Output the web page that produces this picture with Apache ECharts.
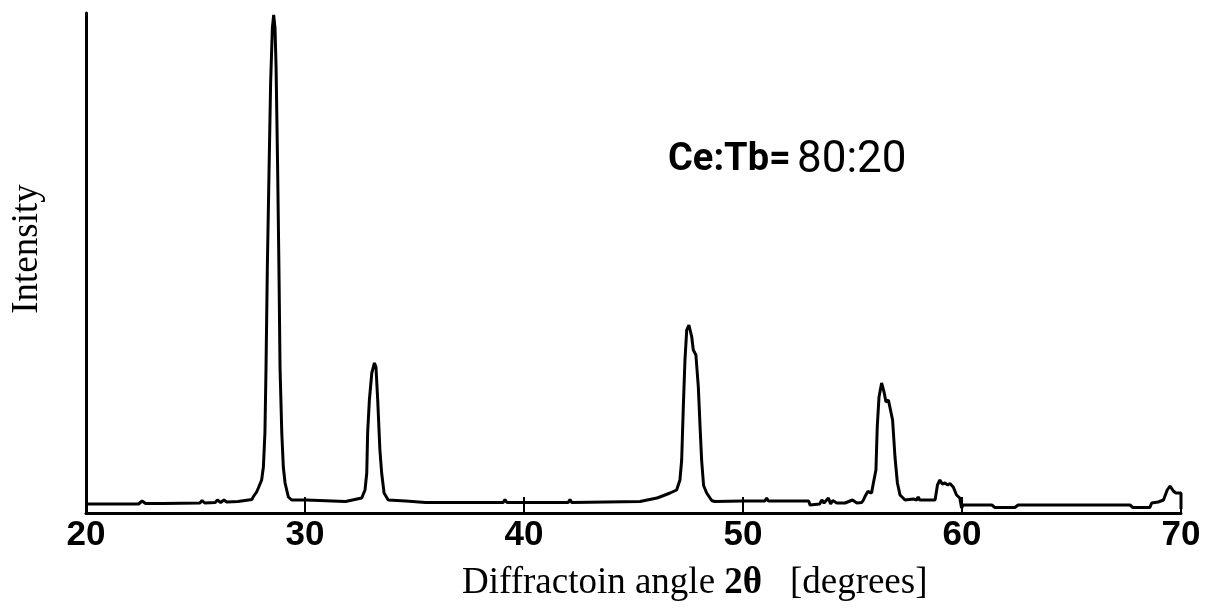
<!DOCTYPE html>
<html>
<head>
<meta charset="utf-8">
<script src="https://cdn.jsdelivr.net/npm/echarts@6/dist/echarts.min.js"></script>
<style>
  html, body { margin: 0; padding: 0; background: #fff; }
  #chart { width: 1211px; height: 609px; }
</style>
</head>
<body>
<div id="chart"></div>
<script>
// X-ray diffraction pattern, Ce:Tb = 80:20
const angle = [
  20.00, 22.40, 22.56, 22.72, 23.30, 23.38, 23.50, 25.20, 25.30, 25.42,
  25.90, 26.00, 26.15, 26.30, 26.42, 26.94, 27.03, 27.58, 27.63, 27.79,
  27.87, 28.02, 28.10, 28.17, 28.22, 28.28, 28.36, 28.43, 28.51, 28.57,
  28.63, 28.68, 28.75, 28.81, 28.86, 28.94, 29.01, 29.09, 29.24, 29.39,
  30.05, 30.10, 31.85, 31.90, 32.59, 32.74, 32.82, 32.86, 32.94, 33.05,
  33.17, 33.24, 33.32, 33.42, 33.50, 33.61, 33.80, 34.60, 35.50, 39.05,
  39.13, 39.22, 42.02, 42.10, 42.18, 45.30, 46.07, 46.20, 46.67, 46.97,
  47.12, 47.20, 47.27, 47.35, 47.43, 47.53, 47.66, 47.73, 47.85, 47.96,
  48.04, 48.11, 48.20, 48.34, 48.57, 48.70, 50.00, 51.00, 51.08, 51.16,
  53.00, 53.06, 53.50, 53.60, 53.70, 53.90, 54.00, 54.10, 54.28, 54.66,
  55.00, 55.04, 55.20, 55.42, 55.50, 55.57, 55.70, 55.87, 55.98, 56.07,
  56.13, 56.21, 56.33, 56.44, 56.53, 56.64, 56.71, 56.83, 56.94, 57.05,
  57.17, 57.40, 57.78, 57.93, 58.00, 58.07, 58.77, 58.88, 58.99, 59.10,
  59.22, 59.35, 59.45, 59.60, 59.75, 59.90, 59.96, 59.98, 60.05, 61.36,
  61.50, 62.42, 62.56, 67.67, 67.80, 68.58, 68.66, 68.96, 69.20, 69.37,
  69.50, 69.65, 69.76, 70.00, 70.00
];
const intensity = [
  1.8, 1.8, 2.4, 1.9, 1.9, 2.3, 1.9, 2.0, 2.5, 2.0,
  2.1, 2.6, 2.1, 2.6, 2.2, 2.3, 2.7, 2.7, 3.2, 4.2,
  5.0, 6.6, 9.2, 16.0, 29.0, 49.0, 69.0, 86.0, 97.0, 99.6,
  97.0, 89.0, 69.0, 49.0, 29.0, 16.0, 9.2, 6.0, 3.2, 2.6,
  2.6, 2.3, 2.3, 2.7, 3.0, 4.6, 8.0, 16.0, 22.6, 28.0,
  30.0, 29.2, 22.6, 12.6, 8.0, 4.0, 2.6, 2.4, 2.1, 2.1,
  2.7, 2.1, 2.1, 2.7, 2.1, 2.3, 3.0, 3.2, 4.0, 4.6,
  6.6, 10.6, 20.6, 30.6, 36.6, 37.6, 35.2, 32.6, 31.6, 25.2,
  17.2, 10.6, 5.5, 4.0, 2.5, 2.3, 2.4, 2.4, 3.0, 2.4,
  2.4, 1.6, 1.8, 2.6, 2.0, 3.0, 1.8, 2.5, 2.0, 2.0,
  2.6, 3.0, 2.0, 2.1, 2.6, 3.3, 4.3, 4.0, 6.6, 8.6,
  17.2, 23.2, 26.0, 24.2, 22.2, 22.6, 22.2, 18.6, 11.2, 6.0,
  3.6, 2.6, 2.8, 2.6, 3.2, 2.6, 2.6, 5.6, 6.6, 5.8,
  6.0, 5.6, 5.9, 5.2, 3.6, 3.0, 3.0, 1.0, 1.6, 1.6,
  1.1, 1.1, 1.6, 1.6, 1.1, 1.1, 2.0, 2.2, 2.6, 4.6,
  5.4, 4.4, 4.0, 4.0, 0.8
];
const angleTicks = [20, 30, 40, 50, 60, 70];
const sampleLabel = ['Ce:Tb=', '80:20'];
const xTitle = ['Diffractoin angle ', '2θ', '   [degrees]'];
const yTitle = 'Intensity';

const points = angle.map((a, i) => [a, intensity[i]]);

const chart = echarts.init(document.getElementById('chart'), null, { renderer: 'canvas' });
chart.setOption({
  animation: false,
  backgroundColor: '#fff',
  grid: { left: 86, right: 30, top: 13, bottom: 96 },
  xAxis: {
    type: 'value',
    min: angleTicks[0],
    max: angleTicks[angleTicks.length - 1],
    interval: 10,
    axisLine: { show: true, onZero: false, lineStyle: { color: '#000', width: 3 } },
    axisTick: { show: true, inside: true, length: 16, lineStyle: { color: '#000', width: 2 } },
    axisLabel: {
      margin: 5,
      color: '#000',
      fontFamily: 'Liberation Sans',
      fontWeight: 'bold',
      fontSize: 35
    },
    splitLine: { show: false }
  },
  yAxis: {
    type: 'value',
    min: 0,
    max: 100,
    axisLine: { show: true, onZero: false, lineStyle: { color: '#000', width: 3 } },
    axisTick: { show: false },
    axisLabel: { show: false },
    splitLine: { show: false }
  },
  series: [{
    type: 'line',
    data: points,
    showSymbol: false,
    symbol: 'none',
    lineStyle: { color: '#000', width: 3 },
    z: 3
  }],
  graphic: [
    {
      type: 'text',
      x: 27.5, y: 249,
      rotation: Math.PI / 2,
      style: {
        text: yTitle,
        font: '37px "Liberation Serif"',
        fill: '#000',
        textAlign: 'center',
        textVerticalAlign: 'middle'
      }
    },
    {
      type: 'text',
      x: 462, y: 583,
      style: {
        text: '{a|' + xTitle[0] + '}{b|' + xTitle[1] + '}{a|' + xTitle[2] + '}',
        textAlign: 'left',
        textVerticalAlign: 'middle',
        rich: {
          a: { font: '37px "Liberation Serif"', fill: '#000' },
          b: { font: 'bold 37px "Liberation Serif"', fill: '#000' }
        }
      }
    },
    {
      type: 'text',
      x: 668, y: 160,
      style: {
        text: sampleLabel[0],
        font: 'bold 38px Roboto',
        fill: '#000',
        textAlign: 'left',
        textVerticalAlign: 'middle'
      }
    },
    {
      type: 'text',
      x: 797, y: 161,
      style: {
        text: sampleLabel[1],
        font: '44px Roboto',
        fill: '#000',
        textAlign: 'left',
        textVerticalAlign: 'middle'
      }
    }
  ]
});
</script>
</body>
</html>
